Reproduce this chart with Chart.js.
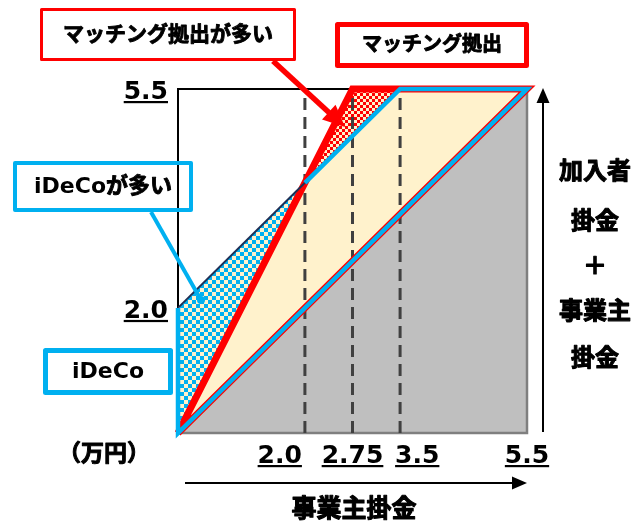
<!DOCTYPE html>
<html lang="ja">
<head>
<meta charset="utf-8">
<script src="https://cdn.jsdelivr.net/npm/chart.js@4.4.0/dist/chart.umd.min.js"></script>
<style>
html,body{margin:0;padding:0;background:#fff;}
#wrap{position:relative;width:638px;height:522px;}
</style>
</head>
<body>
<div id="wrap"><canvas id="c"></canvas></div>
<script>
/* ---------- data (万円) ---------- */
const xTicks=[2.0,2.75,3.5,5.5], xTickLabels=['2.0','2.75','3.5','5.5'];
const yTicks=[2.0,5.5],          yTickLabels=['2.0','5.5'];

// 事業主掛金のみ（対角線の下）
const baseX=[0,5.5,5.5,0],        baseY=[0,5.5,0,0];
// マッチング拠出の上限
const matchX=[0,2.75,5.5,0],      matchY=[0,5.5,5.5,0];
// iDeCoの上限
const idecoX=[2.0,3.5,5.5,0,0],   idecoY=[4.0,5.5,5.5,0,2.0];
const idecoEdgeX=[0,2.0],         idecoEdgeY=[2.0,4.0];
// 共通部分 / マッチング拠出が多い / iDeCoが多い
const bothX=[0,2.0,3.5,5.5,0],    bothY=[0,4.0,5.5,5.5,0];
const matchMoreX=[2.0,2.75,3.5,2.0], matchMoreY=[4.0,5.5,5.5,4.0];
const idecoMoreX=[0,0,2.0,0],     idecoMoreY=[0,2.0,4.0,0];
// 破線
const dashX=[2.0,2.75,3.5],       dashY=[0,5.5];

/* ---------- colours ---------- */
const RED='#ff0000', BLUE='#00b0f0', CREAM='#fff2cc', GRAY='#bfbfbf', NAVY='#1f2f55';

const cv=document.getElementById('c');
function checker(c1,c2,n){
  const p=document.createElement('canvas');p.width=p.height=n*2;
  const g=p.getContext('2d');
  g.fillStyle=c1;g.fillRect(0,0,n*2,n*2);
  g.fillStyle=c2;g.fillRect(0,0,n,n);g.fillRect(n,n,n,n);
  return cv.getContext('2d').createPattern(p,'repeat');
}
const redPat=checker(RED,CREAM,3), bluePat=checker(BLUE,CREAM,4);

const pts=(xs,ys)=>xs.map((x,i)=>({x,y:ys[i]}));
function poly(xs,ys,bg,order){
  return {data:pts(xs,ys),fill:'shape',backgroundColor:bg,borderColor:'transparent',
          borderWidth:1,pointRadius:0,order,clip:false};
}
function outline(xs,ys,col,w,order,dash){
  return {data:pts(xs,ys),fill:false,borderColor:col,borderWidth:w,borderDash:dash||[],
          borderJoinStyle:'miter',pointRadius:0,order,clip:false,tension:0};
}

const datasets=[
  Object.assign(poly(baseX,baseY,GRAY,20),{borderColor:'#7f7f7f',borderWidth:2.5}),
  poly(bothX,bothY,CREAM,19),
  poly(matchMoreX,matchMoreY,redPat,18),
  poly(idecoMoreX,idecoMoreY,bluePat,17),
  ...dashX.map((x,i)=>outline([x,x],dashY,'#404040',3,16-i*0.1,[12,7])),
  outline(matchX,matchY,RED,7,12),
  outline(idecoEdgeX,idecoEdgeY,NAVY,2,11),
  outline(idecoX,idecoY,BLUE,4.5,10)
];

/* ---------- decorations ---------- */
// Noto CJK comes out light here, so thicken the non-latin runs with a thin stroke
function boldText(ctx,t,cx,y,sw){
  const runs=t.match(/[\x00-\x7f]+|[^\x00-\x7f]+/g);
  const ws=runs.map(r=>ctx.measureText(r).width);
  let x=cx-ws.reduce((s,w)=>s+w,0)/2;
  ctx.textAlign='left';ctx.lineWidth=sw;ctx.strokeStyle=ctx.fillStyle;ctx.lineJoin='round';
  runs.forEach((r,i)=>{
    ctx.fillText(r,x,y);
    if(/[^\x00-\x7f]/.test(r)) ctx.strokeText(r,x,y);
    x+=ws[i];
  });
}
function underlined(ctx,t,x,y,align){
  ctx.textAlign=align;ctx.fillText(t,x,y);
  const w=ctx.measureText(t).width;
  const x0=align==='right'?x-w:align==='center'?x-w/2:x;
  ctx.fillRect(x0,y+2,w,2.2);
}
function box(ctx,x,y,w,h,col,lw,text,font){
  ctx.lineWidth=lw;ctx.strokeStyle=col;ctx.lineJoin='round';
  ctx.strokeRect(x,y,w,h);
  ctx.font=font;ctx.fillStyle='#000';ctx.textBaseline='middle';
  boldText(ctx,text,x+w/2,y+h/2+1,0.9);
}
function arrowHead(ctx,x1,y1,x2,y2,len,half,col){
  const a=Math.atan2(y2-y1,x2-x1);
  ctx.fillStyle=col;ctx.beginPath();
  ctx.moveTo(x2,y2);
  ctx.lineTo(x2-len*Math.cos(a)+half*Math.sin(a),y2-len*Math.sin(a)-half*Math.cos(a));
  ctx.lineTo(x2-len*Math.cos(a)-half*Math.sin(a),y2-len*Math.sin(a)+half*Math.cos(a));
  ctx.closePath();ctx.fill();
}
function line(ctx,x1,y1,x2,y2,col,w){
  ctx.strokeStyle=col;ctx.lineWidth=w;ctx.lineCap='butt';
  ctx.beginPath();ctx.moveTo(x1,y1);ctx.lineTo(x2,y2);ctx.stroke();
}

// x labels are crowded, so spread them like the original slide
const xAlign=[['right',-3],['center',0],['left',-5],['center',0]];

const deco={
  id:'deco',
  beforeDatasetsDraw(chart){
    const {ctx,chartArea:a}=chart;
    ctx.save();
    ctx.strokeStyle='#000';ctx.lineWidth=2;
    ctx.beginPath();ctx.moveTo(a.left,a.bottom);ctx.lineTo(a.left,a.top);ctx.lineTo(a.right,a.top);ctx.stroke();
    ctx.restore();
  },
  afterDraw(chart){
    const ctx=chart.ctx, xs=chart.scales.x, ys=chart.scales.y;
    ctx.save();
    // tick labels
    ctx.font='bold 25px "DejaVu Sans"';ctx.fillStyle='#000';ctx.textBaseline='alphabetic';
    xTicks.forEach((v,i)=>underlined(ctx,xTickLabels[i],xs.getPixelForValue(v)+xAlign[i][1],463,xAlign[i][0]));
    yTicks.forEach((v,i)=>underlined(ctx,yTickLabels[i],168,ys.getPixelForValue(v)+10,'right'));

    // callout lines
    line(ctx,273,61,336,119,RED,5.5);
    arrowHead(ctx,273,61,345,127,22,10,RED);
    line(ctx,151,212,201,300,BLUE,4);
    ctx.fillStyle=BLUE;ctx.beginPath();ctx.arc(201,300,4,0,Math.PI*2);ctx.fill();

    // callout boxes
    const jp='"DejaVu Sans","Noto Sans CJK JP"';
    box(ctx,41.5,9.5,253,50,RED,3,'マッチング拠出が多い','bold 21px '+jp);
    box(ctx,337.5,24.5,189,41,RED,5,'マッチング拠出','bold 20px '+jp);
    box(ctx,15,163,176,47,BLUE,4,'iDeCoが多い','bold 22px '+jp);
    box(ctx,45.5,350.5,125,42,BLUE,5,'iDeCo','bold 22px '+jp);

    // axis arrows
    line(ctx,543,432,543,100,'#000',2);
    arrowHead(ctx,543,432,543,88,15,6.5,'#000');
    line(ctx,185,483,516,483,'#000',2);
    arrowHead(ctx,185,483,527,483,15,6.5,'#000');

    // axis titles
    ctx.fillStyle='#000';ctx.textBaseline='middle';
    ctx.font='bold 23px "Noto Sans CJK JP"';
    boldText(ctx,'（万円）',104,452,1);
    ctx.font='bold 25px "Noto Sans CJK JP"';
    boldText(ctx,'事業主掛金',354,507,1.1);
    ctx.font='bold 24px "Noto Sans CJK JP"';
    [['加入者',170],['掛金',220],['＋',265],['事業主',310],['掛金',357]]
      .forEach(([t,y])=>boldText(ctx,t,595,y,1.1));
    ctx.restore();
  }
};

new Chart(cv,{
  type:'line',
  data:{datasets},
  options:{
    responsive:true,maintainAspectRatio:false,animation:false,
    layout:{padding:{left:178,right:111,top:89,bottom:89}},
    plugins:{legend:{display:false},tooltip:{enabled:false}},
    scales:{
      x:{type:'linear',min:0,max:5.5,display:false},
      y:{type:'linear',min:0,max:5.5,display:false}
    }
  },
  plugins:[deco]
});
</script>
</body>
</html>
